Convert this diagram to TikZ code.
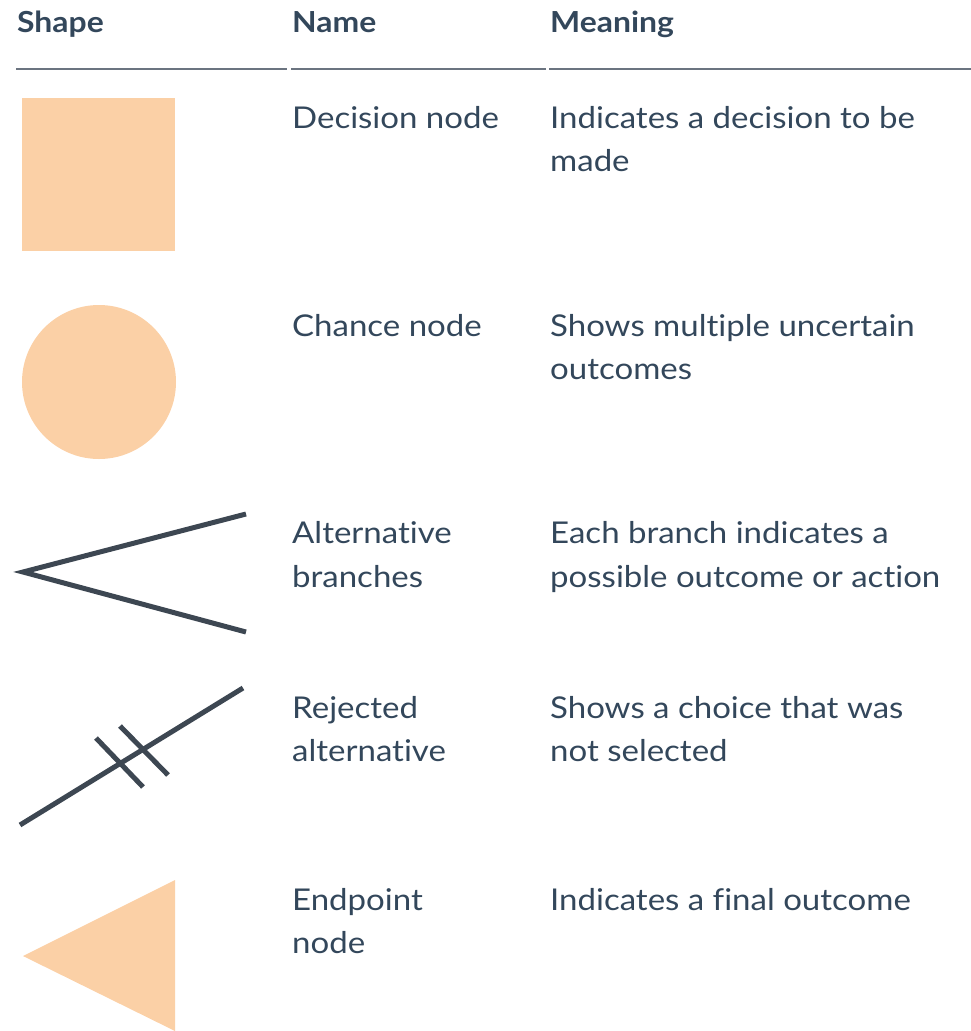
\documentclass[tikz,border=0pt]{standalone}
\usepackage{fontspec}
\setmainfont{Lato}[FakeStretch=1.1,Ligatures=NoCommon]
\definecolor{txt}{HTML}{33475B}
\definecolor{peach}{HTML}{FBD0A6}
\definecolor{ink}{HTML}{3D4752}
\definecolor{rule}{HTML}{6B7480}
\newcommand{\nl}{\kern0pt}
\tikzset{
  cell/.style={anchor=base west, inner sep=0pt, text=txt, font=\fontsize{30}{36}\selectfont},
  head/.style={cell, font=\fontsize{29}{34}\selectfont\bfseries},
  hline/.style={draw=rule, line width=2pt},
  stroke/.style={draw=ink, line width=5pt},
  shapefill/.style={fill=peach, draw=none}
}
\begin{document}
\begin{tikzpicture}[x=1pt,y=-1pt]
\useasboundingbox (0,0) rectangle (971,1031);
% header
\node[head] (hs) at (17,32) {Shape};
\node[head] (hn) at (292,32) {Name};
\node[head] (hm) at (550,32) {Meaning};
\draw[hline] (16,69) -- (287,69);
\draw[hline] (291,69) -- (546,69);
\draw[hline] (549,69) -- (971,69);
% row 1
\path[shapefill] (22,98) rectangle (175,251);
\node[cell] (n1) at (292,128) {Decision node};
\node[cell] (m1a) at (550,128) {Indicates a decision to be};
\node[cell] (m1b) at (550,171) {made};
% row 2
\path[shapefill] (99,382) circle[radius=77];
\node[cell] (n2) at (292,336) {Chance node};
\node[cell] (m2a) at (550,336) {Shows multiple uncertain};
\node[cell] (m2b) at (550,379) {outcomes};
% row 3
\draw[stroke] (246,514) -- (23,572) -- (246,632);
\node[cell] (n3a) at (292,543) {Alternat\nl ive};
\node[cell] (n3b) at (292,587) {branches};
\node[cell] (m3a) at (550,543) {Each branch indicates a};
\node[cell] (m3b) at (550,587) {possible outcome or act\nl ion};
% row 4
\draw[stroke] (20,825) -- (243,688);
\draw[stroke] (96,738) -- (143,787);
\draw[stroke] (120,726) -- (168,775);
\node[cell] (n4a) at (292,718) {Rejected};
\node[cell] (n4b) at (292,761) {alternat\nl ive};
\node[cell] (m4a) at (550,718) {Shows a choice that was};
\node[cell] (m4b) at (550,761) {not selected};
% row 5
\path[shapefill] (23,956) -- (175,880) -- (175,1031) -- cycle;
\node[cell] (n5a) at (292,910) {Endpoint};
\node[cell] (n5b) at (292,953) {node};
\node[cell] (m5a) at (550,910) {Indicates a f\nl inal outcome};
\end{tikzpicture}
\end{document}
